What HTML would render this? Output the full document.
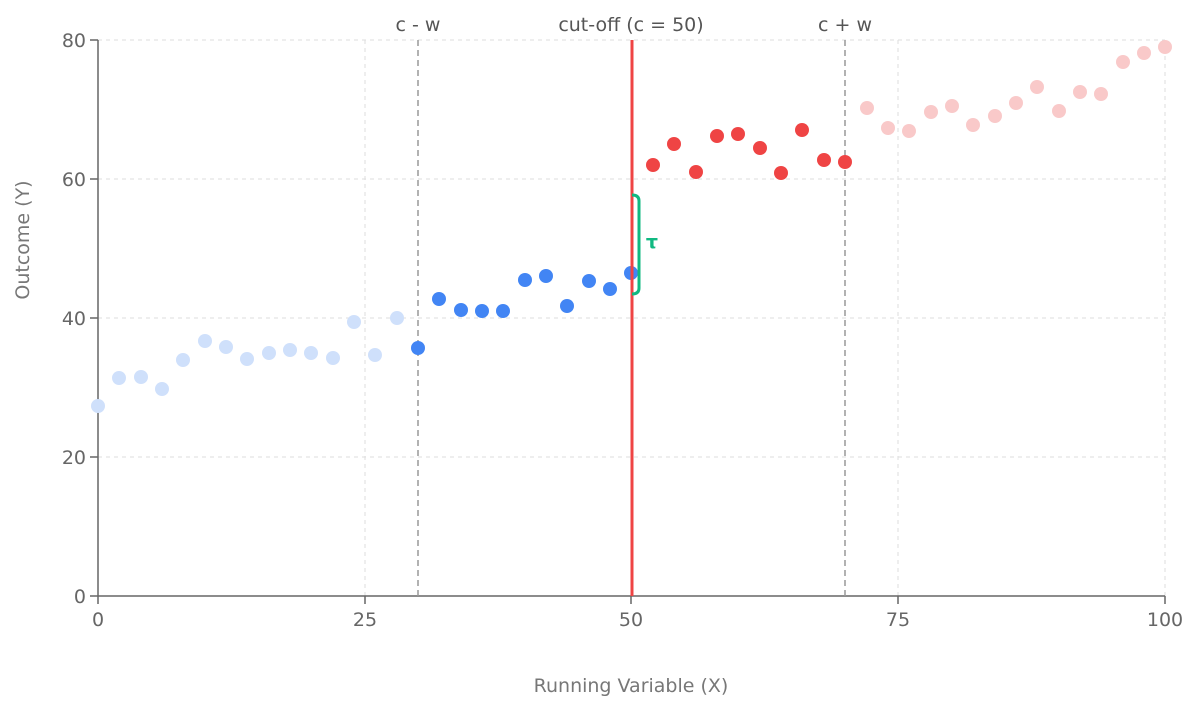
<!DOCTYPE html>
<html><head><meta charset="utf-8"><style>
html,body{margin:0;padding:0;background:#fff;}
svg{display:block;font-family:"DejaVu Sans","Liberation Sans",sans-serif;}
</style></head><body>
<svg width="1197" height="706" viewBox="0 0 1197 706" xmlns="http://www.w3.org/2000/svg">
<g stroke="#ddd" stroke-dasharray="4,4" stroke-width="1">
<line x1="98" y1="40" x2="1165" y2="40"/>
<line x1="98" y1="179" x2="1165" y2="179"/>
<line x1="98" y1="318" x2="1165" y2="318"/>
<line x1="98" y1="457" x2="1165" y2="457"/>
<line x1="365" y1="40" x2="365" y2="596"/>
<line x1="631" y1="40" x2="631" y2="596"/>
<line x1="898" y1="40" x2="898" y2="596"/>
<line x1="1165" y1="40" x2="1165" y2="596"/>
</g>
<g stroke="#666" stroke-width="1.5">
<line x1="98" y1="40" x2="98" y2="596"/>
<line x1="98" y1="596" x2="1165" y2="596"/>
<line x1="90" y1="40" x2="98" y2="40"/><line x1="90" y1="179" x2="98" y2="179"/><line x1="90" y1="318" x2="98" y2="318"/><line x1="90" y1="457" x2="98" y2="457"/><line x1="90" y1="596" x2="98" y2="596"/>
<line x1="98" y1="596" x2="98" y2="604"/><line x1="365" y1="596" x2="365" y2="604"/><line x1="631" y1="596" x2="631" y2="604"/><line x1="898" y1="596" x2="898" y2="604"/><line x1="1165" y1="596" x2="1165" y2="604"/>
</g>
<g fill="#666" font-size="19" text-anchor="end">
<text x="86" y="47">80</text><text x="86" y="186">60</text><text x="86" y="325">40</text><text x="86" y="464">20</text><text x="86" y="603">0</text>
</g>
<g fill="#666" font-size="19" text-anchor="middle">
<text x="98" y="626">0</text><text x="365" y="626">25</text><text x="631" y="626">50</text><text x="898" y="626">75</text><text x="1165" y="626">100</text>
<text x="631" y="692" fill="#777">Running Variable (X)</text>
<text transform="translate(29,240) rotate(-90)" fill="#777">Outcome (Y)</text>
<text x="418" y="31" fill="#555">c - w</text>
<text x="631" y="31" fill="#555">cut-off (c = 50)</text>
<text x="845" y="31" fill="#555">c + w</text>
</g>
<g stroke="#999" stroke-dasharray="6,4" stroke-width="1.5">
<line x1="418" y1="40" x2="418" y2="596"/>
<line x1="845" y1="40" x2="845" y2="596"/>
</g>
<g fill="#cfe0fb">
<circle cx="98" cy="406" r="7"/><circle cx="119" cy="378" r="7"/><circle cx="141" cy="377" r="7"/><circle cx="162" cy="389" r="7"/><circle cx="183" cy="360" r="7"/><circle cx="205" cy="341" r="7"/><circle cx="226" cy="347" r="7"/><circle cx="247" cy="359" r="7"/><circle cx="269" cy="353" r="7"/><circle cx="290" cy="350" r="7"/><circle cx="311" cy="353" r="7"/><circle cx="333" cy="358" r="7"/><circle cx="354" cy="322" r="7"/><circle cx="375" cy="355" r="7"/><circle cx="397" cy="318" r="7"/>
</g>
<g fill="#4285f4">
<circle cx="418" cy="348" r="7"/><circle cx="439" cy="299" r="7"/><circle cx="461" cy="310" r="7"/><circle cx="482" cy="311" r="7"/><circle cx="503" cy="311" r="7"/><circle cx="525" cy="280" r="7"/><circle cx="546" cy="276" r="7"/><circle cx="567" cy="306" r="7"/><circle cx="589" cy="281" r="7"/><circle cx="610" cy="289" r="7"/><circle cx="631" cy="273" r="7"/>
</g>
<g fill="#ef4444">
<circle cx="653" cy="165" r="7"/><circle cx="674" cy="144" r="7"/><circle cx="696" cy="172" r="7"/><circle cx="717" cy="136" r="7"/><circle cx="738" cy="134" r="7"/><circle cx="760" cy="148" r="7"/><circle cx="781" cy="173" r="7"/><circle cx="802" cy="130" r="7"/><circle cx="824" cy="160" r="7"/><circle cx="845" cy="162" r="7"/>
</g>
<g fill="#f9c9c9">
<circle cx="867" cy="108" r="7"/><circle cx="888" cy="128" r="7"/><circle cx="909" cy="131" r="7"/><circle cx="931" cy="112" r="7"/><circle cx="952" cy="106" r="7"/><circle cx="973" cy="125" r="7"/><circle cx="995" cy="116" r="7"/><circle cx="1016" cy="103" r="7"/><circle cx="1037" cy="87" r="7"/><circle cx="1059" cy="111" r="7"/><circle cx="1080" cy="92" r="7"/><circle cx="1101" cy="94" r="7"/><circle cx="1123" cy="62" r="7"/><circle cx="1144" cy="53" r="7"/><circle cx="1165" cy="47" r="7"/>
</g>
<line x1="632" y1="40" x2="632" y2="596" stroke="#ef4444" stroke-width="3"/>
<path d="M632,195 Q639,195 639,201 L639,288 Q639,294 632,294" fill="none" stroke="#10b981" stroke-width="3"/>
<text x="652" y="248" fill="#10b981" font-size="19" font-weight="bold" text-anchor="middle">τ</text>
</svg>
</body></html>
